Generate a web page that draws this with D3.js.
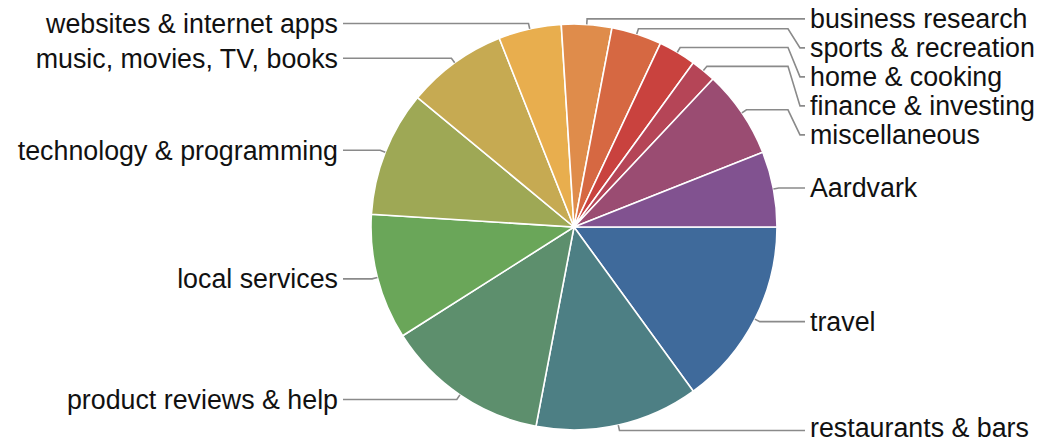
<!DOCTYPE html>
<html>
<head>
<meta charset="utf-8">
<script src="https://cdn.jsdelivr.net/npm/d3@7"></script>
<style>
  html, body { margin: 0; padding: 0; background: #fff; }
  svg { display: block; }
  text { font-family: "Liberation Sans", Arial, Helvetica, sans-serif; font-size: 26.8px; fill: #111; }
</style>
</head>
<body>
<svg id="chart" width="1038" height="444"></svg>
<script>
// question topics, clockwise from 3 o'clock
const categories = [
  'travel', 'restaurants & bars', 'product reviews & help', 'local services',
  'technology & programming', 'music, movies, TV, books', 'websites & internet apps',
  'business research', 'sports & recreation', 'home & cooking',
  'finance & investing', 'miscellaneous', 'Aardvark'
];
const shares = [15, 13, 13, 10, 10, 8, 5, 4, 4, 3, 2, 7, 6];
const colors = [
  '#3f6a9b', '#4d7f84', '#5d8f6d', '#6aa659', '#9ea855', '#c6aa52', '#e8ae4e',
  '#df8c4b', '#d66842', '#c9423e', '#b54557', '#9a4c72', '#815290'
];

const cx = 574, cy = 227;
const radius = 203;
const kneeR = 208.5;
const labelGap = 29;

const svg = d3.select('svg#chart');
const view = svg.append('g').attr('transform', `translate(${cx},${cy})`);

const data = categories.map((name, i) => ({ name, value: shares[i], color: colors[i] }));

const pie = d3.pie()
  .sort(null)
  .value(d => d.value)
  .startAngle(Math.PI / 2)
  .endAngle(Math.PI / 2 + 2 * Math.PI);

const arcs = pie(data);
const arc = d3.arc().innerRadius(0).outerRadius(radius);

view.append('g')
  .selectAll('path')
  .data(arcs)
  .enter()
  .append('path')
  .attr('fill', d => d.data.color)
  .attr('stroke', '#fff')
  .attr('stroke-width', 1.6)
  .attr('d', arc);

// label layout: natural spot just outside the arc, then push down to avoid overlap
const polar = (a, r) => [Math.sin(a) * r, -Math.cos(a) * r];
const labels = arcs.map(d => {
  const mid = (d.startAngle + d.endAngle) / 2;
  const edge = polar(mid, radius);
  const knee = polar(mid, kneeR);
  return { d, edge, knee, right: knee[0] > 0, y: knee[1] };
});

[true, false].forEach(side => {
  const group = labels.filter(l => l.right === side).sort((a, b) => a.knee[1] - b.knee[1]);
  group.forEach((l, i) => {
    l.y = i === 0 ? l.knee[1] : Math.max(l.knee[1], group[i - 1].y + labelGap);
  });
});

// keep the bottom text inside the picture
const maxTextY = 428 - cy;

view.append('g')
  .selectAll('path')
  .data(labels)
  .enter()
  .append('path')
  .attr('fill', 'none')
  .attr('stroke', '#8a8a8a')
  .attr('stroke-width', 1.6)
  .attr('d', l => {
    const s = l.right ? 1 : -1;
    const pts = [l.edge, l.knee];
    if (Math.abs(l.y - l.knee[1]) > 0.5) {
      pts.push([s * 214, l.knee[1]]);
      pts.push([s * 226, l.y]);
    }
    pts.push([s * 231, l.y]);
    return 'M' + pts.map(p => p.join(',')).join('L');
  });

view.append('g')
  .selectAll('text')
  .data(labels)
  .enter()
  .append('text')
  .attr('x', l => (l.right ? 236 : -236))
  .attr('y', l => Math.min(l.y, maxTextY))
  .attr('dy', '0.35em')
  .attr('text-anchor', l => (l.right ? 'start' : 'end'))
  .text(l => l.d.data.name);
</script>
</body>
</html>
